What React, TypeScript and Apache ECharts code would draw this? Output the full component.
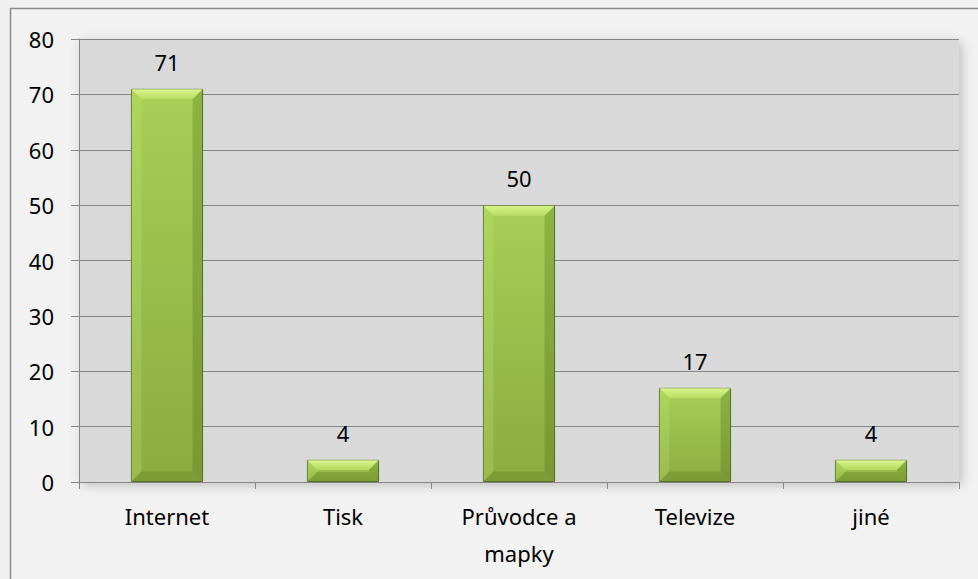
import React, { useEffect, useRef } from "react";
import * as echarts from "echarts";

const categories = ["Internet", "Tisk", "Průvodce a\nmapky", "Televize", "jiné"];
const values = [71, 4, 50, 17, 4];
const yMin = 0;
const yMax = 80;
const yInterval = 10;

export default function App() {
  const ref = useRef<HTMLDivElement>(null);
  useEffect(() => {
    document.body.style.margin = "0";
    const chart = echarts.init(ref.current!, null, { renderer: "svg" });
    const font = "'Noto Sans', 'Open Sans', sans-serif";
    const gl = 79, gt = 39, gr = 19, gb = 97;
    const pw = 978 - gl - gr, ph = 579 - gt - gb;
    chart.setOption({
      animation: false,
      backgroundColor: "#f0f0f0",
      graphic: [
        {
          type: "rect",
          z: -10,
          silent: true,
          shape: { x: 10.5, y: 8.5, width: 1000, height: 600 },
          style: { fill: "#f2f2f2", stroke: "#8c8c8c", lineWidth: 1.5 },
        },
        {
          type: "rect",
          z: -5,
          silent: true,
          shape: { x: gl, y: gt, width: pw, height: ph },
          style: {
            fill: "#d9d9d9",
            shadowBlur: 12,
            shadowColor: "rgba(0,0,0,0.22)",
            shadowOffsetX: 3,
            shadowOffsetY: 3,
          },
        },
      ],
      grid: { left: gl, right: gr, top: gt, bottom: gb, containLabel: false },
      xAxis: {
        type: "category",
        data: categories,
        axisLine: { lineStyle: { color: "#868686", width: 1 } },
        axisTick: { show: true, length: 7, lineStyle: { color: "#868686" } },
        axisLabel: {
          color: "#000",
          fontFamily: font,
          fontSize: 22,
          margin: 15,
          lineHeight: 37,
        },
      },
      yAxis: {
        type: "value",
        min: yMin,
        max: yMax,
        interval: yInterval,
        axisLine: { show: true, lineStyle: { color: "#868686", width: 1 } },
        axisTick: { show: true, length: 8, lineStyle: { color: "#868686" } },
        splitLine: { lineStyle: { color: "#868686", width: 1 } },
        axisLabel: { color: "#000", fontFamily: font, fontSize: 22, margin: 25 },
      },
      series: [
        {
          type: "bar",
          data: values,
          barWidth: "41%",
          itemStyle: {
            color: new echarts.graphic.LinearGradient(0, 0, 0, 1, [
              { offset: 0, color: "#a7d057" },
              { offset: 1, color: "#8bab3f" },
            ]),
            borderColor: "#56702a",
            borderWidth: 1,
          },
          label: {
            show: true,
            position: "top",
            distance: 16,
            color: "#000",
            fontFamily: font,
            fontSize: 22,
          },
          z: 2,
        },
        {
          type: "custom",
          data: values.map((v, i) => [i, v]),
          z: 3,
          silent: true,
          renderItem: (params: any, api: any) => {
            const i = api.value(0);
            const v = api.value(1);
            const top = api.coord([i, v]);
            const base = api.coord([i, 0]);
            const w = api.size([1, 0])[0] * 0.41;
            const x0 = top[0] - w / 2 + 0.5;
            const x1 = top[0] + w / 2 - 0.5;
            const y0 = top[1] + 0.5;
            const y1 = base[1] - 0.5;
            const b = Math.min(10, (y1 - y0) / 2.2);
            return {
              type: "group",
              children: [
                {
                  type: "polygon",
                  shape: { points: [[x0, y0], [x1, y0], [x1 - b, y0 + b], [x0 + b, y0 + b]] },
                  style: {
                    fill: new echarts.graphic.LinearGradient(0, 0, 0, 1, [
                      { offset: 0, color: "rgba(225,250,150,0.9)" },
                      { offset: 1, color: "rgba(195,232,105,0.6)" },
                    ]),
                  },
                },
                {
                  type: "polygon",
                  shape: { points: [[x0, y1], [x1, y1], [x1 - b, y1 - b], [x0 + b, y1 - b]] },
                  style: { fill: "rgba(90,120,30,0.3)" },
                },
                {
                  type: "polygon",
                  shape: { points: [[x0, y0], [x0 + b, y0 + b], [x0 + b, y1 - b], [x0, y1]] },
                  style: { fill: "rgba(190,225,110,0.3)" },
                },
                {
                  type: "polygon",
                  shape: { points: [[x1, y0], [x1 - b, y0 + b], [x1 - b, y1 - b], [x1, y1]] },
                  style: { fill: "rgba(80,110,25,0.3)" },
                },
              ],
            };
          },
        },
      ],
    });
    return () => chart.dispose();
  }, []);
  return <div ref={ref} style={{ position: "fixed", left: 0, top: 0, width: 978, height: 579 }} />;
}
